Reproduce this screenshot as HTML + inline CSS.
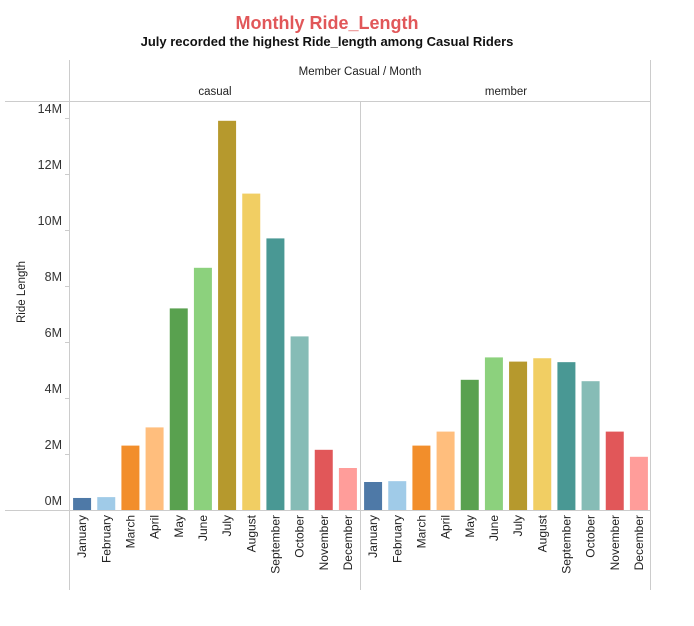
<!DOCTYPE html>
<html><head><meta charset="utf-8"><style>
body{margin:0;background:#fff;font-family:"Liberation Sans",sans-serif}
svg text{font-family:"Liberation Sans",sans-serif}
</style></head><body>
<svg id="c" width="694" height="621">
<text x="327" y="29" text-anchor="middle" font-size="18" font-weight="bold" fill="#e15759">Monthly Ride_Length</text>
<text x="327" y="46" text-anchor="middle" font-size="13" font-weight="bold" fill="#111">July recorded the highest Ride_length among Casual Riders</text>
<text x="360" y="75" text-anchor="middle" font-size="11.5" fill="#222">Member Casual / Month</text>
<line x1="69.5" y1="60" x2="69.5" y2="590" stroke="#ccc"/>
<line x1="650.5" y1="60" x2="650.5" y2="590" stroke="#ccc"/>
<line x1="360.5" y1="101" x2="360.5" y2="590" stroke="#ccc"/>
<line x1="5" y1="101.5" x2="651" y2="101.5" stroke="#ccc"/>
<line x1="5" y1="510.5" x2="651" y2="510.5" stroke="#ccc"/>
<text x="33" y="300" text-anchor="middle" font-size="11.5" fill="#222" transform="rotate(-90 25 300)">Ride Length</text>
<g id="g"></g>
</svg>
<script>
const months=["January","February","March","April","May","June","July","August","September","October","November","December"];
const segments=["casual","member"];
const casualValues=[0.43,0.46,2.3,2.95,7.2,8.65,13.9,11.3,9.7,6.2,2.15,1.5];
const memberValues=[1.0,1.03,2.3,2.8,4.65,5.45,5.3,5.42,5.28,4.6,2.8,1.9];
const yTicks=[0,2,4,6,8,10,12,14];
const colors=["#4e79a7","#a0cbe8","#f28e2b","#ffbe7d","#59a14f","#8cd17d","#b6992d","#f1ce63","#499894","#86bcb6","#e15759","#ff9d9a"];
const NS="http://www.w3.org/2000/svg",g=document.getElementById('g');
const y=v=>510-v*28;
const panelX=[70,361],panelW=290;
function el(t,a){const e=document.createElementNS(NS,t);for(const k in a)e.setAttribute(k,a[k]);g.appendChild(e);return e;}
yTicks.forEach(t=>{
  const l=el('line',{x1:65,x2:69,y1:y(t)+.5,y2:y(t)+.5,stroke:'#ccc'});
  const tx=el('text',{x:62,y:y(t)-5,'text-anchor':'end','font-size':12.5,fill:'#333'});
  tx.textContent=t+'M';
  
  
});
[casualValues,memberValues].forEach((vals,p)=>{
  const h=el('text',{x:panelX[p]+panelW/2,y:95,'text-anchor':'middle','font-size':11.5,fill:'#222'});
  h.textContent=segments[p];
  
  
  const step=panelW/months.length;
  vals.forEach((v,i)=>{
    const cx=panelX[p]+step*(i+.5);
    const r=el('rect',{x:cx-9,y:y(v),width:18,height:510-y(v),fill:colors[i]});
    
    
    const t=el('text',{x:0,y:0,'text-anchor':'end','font-size':12,fill:'#222',transform:`translate(${cx+4},515) rotate(-90)`});
    t.textContent=months[i];
    
    
  });
});
</script>
</body></html>
